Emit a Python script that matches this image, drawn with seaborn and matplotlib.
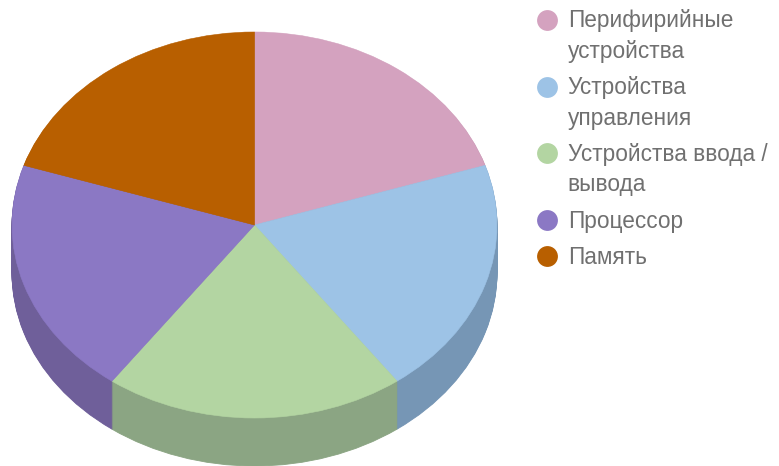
import matplotlib
matplotlib.use("Agg")
import matplotlib.pyplot as plt
from matplotlib.lines import Line2D
from matplotlib.legend_handler import HandlerLine2D
import seaborn as sns

# data
labels = ["Перифирийные\nустройства", "Устройства\nуправления",
          "Устройства ввода /\nвывода", "Процессор", "Память"]
values = [20, 20, 20, 20, 20]
top_colors = ["#d4a2bf", "#9dc3e6", "#b3d5a2", "#8b78c4", "#b85f00"]
side_colors = ["#a07a90", "#7696b5", "#8ba583", "#6f5f9a", "#8a4700"]

sns.set_theme(style="white")
plt.rcParams["font.family"] = ["Liberation Sans", "DejaVu Sans"]

W, H = 779, 466
fig = plt.figure(figsize=(W / 100, H / 100), dpi=100)

# ellipse of the top face in pixels
cx, cy, rx, ry = 254.5, 225, 242.5, 193
depth_px = 48
depth = depth_px / ry

# axes spans full height, one y unit is ry pixels
ax = fig.add_axes([(cx - rx) / W, 0, 2 * rx / W, 1])


def draw_pie(colors, center, lw):
    wedges, _ = ax.pie(values, colors=colors, startangle=90, counterclock=False,
                       center=center, radius=1)
    for w, c in zip(wedges, colors):
        w.set_edgecolor(c)
        w.set_linewidth(lw)


# side of the disc: same pie pushed down layer by layer
n_layers = 48
for i in range(n_layers, 0, -1):
    draw_pie(side_colors, (0, -depth * i / n_layers), 0.6)

# top face
draw_pie(top_colors, (0, 0), 0.4)

ax.set_aspect("auto")
ax.set_xlim(-1, 1)
ax.set_ylim(-(H - cy) / ry, cy / ry)


# legend circle sits on the first line of a wrapped label
class FirstLineHandler(HandlerLine2D):
    def __init__(self, dy):
        super().__init__()
        self.dy = dy

    def create_artists(self, legend, orig_handle, xdescent, ydescent, width, height, fontsize, trans):
        artists = super().create_artists(legend, orig_handle, xdescent, ydescent,
                                         width, height, fontsize, trans)
        for a in artists:
            a.set_ydata(a.get_ydata() + self.dy)
        return artists


handles = [Line2D([], [], linestyle="none", marker="o", markersize=15,
                  markerfacecolor=c, markeredgecolor="none") for c in top_colors]
handler_map = {h: FirstLineHandler(12.5 if "\n" in lab else 0) for h, lab in zip(handles, labels)}
leg = fig.legend(handles, labels, loc="upper left", bbox_to_anchor=(536 / W, 1 - 9.5 / H),
                 frameon=False, fontsize=16.3, labelcolor="#707070", labelspacing=0.58,
                 handlelength=1.0, handletextpad=0.4, borderpad=0, borderaxespad=0,
                 handler_map=handler_map)
for t in leg.get_texts():
    t.set_linespacing(1.42)

fig.savefig("out.png", dpi=100)
